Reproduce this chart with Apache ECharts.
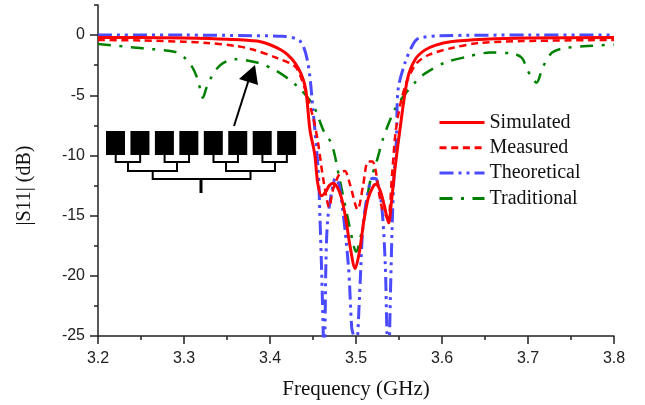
<!DOCTYPE html>
<html>
<head>
<meta charset="utf-8">
<style>
  html, body { margin: 0; padding: 0; background: #fff; }
  #chart { width: 645px; height: 405px; }
</style>
<script src="https://cdn.jsdelivr.net/npm/echarts@6/dist/echarts.min.js"></script>
</head>
<body>
<div id="chart"></div>
<script>
const simFreq = [3.2, 3.25, 3.3, 3.35, 3.385, 3.4, 3.412, 3.42, 3.429, 3.436, 3.4415, 3.4465, 3.452, 3.4555, 3.46, 3.465, 3.469, 3.473, 3.478, 3.483, 3.488, 3.493, 3.499, 3.504, 3.509, 3.514, 3.519, 3.523, 3.528, 3.533, 3.538, 3.541, 3.545, 3.551, 3.56, 3.569, 3.58, 3.592, 3.61, 3.65, 3.7, 3.8];
const simVals = [-0.2, -0.2, -0.25, -0.35, -0.5, -0.8, -1.2, -1.6, -2.3, -3.2, -4.5, -7.9, -9.9, -12.3, -13.35, -13, -12.5, -12.3, -12.6, -13.5, -15.2, -17.5, -19.4, -18, -15.5, -13.6, -12.7, -12.4, -12.9, -14.2, -15.6, -14, -11.3, -7.9, -3.6, -2, -1.25, -0.85, -0.55, -0.35, -0.25, -0.2];

const measFreq = [3.2, 3.25, 3.3, 3.327, 3.36, 3.38, 3.408, 3.429, 3.437, 3.45, 3.456, 3.462, 3.469, 3.473, 3.481, 3.487, 3.493, 3.502, 3.508, 3.514, 3.519, 3.53, 3.537, 3.542, 3.546, 3.552, 3.56, 3.571, 3.586, 3.613, 3.644, 3.694, 3.8];
const measVals = [-0.4, -0.45, -0.55, -0.65, -0.9, -1.2, -1.9, -2.6, -3.7, -6.8, -9, -12, -14.3, -12.9, -11.5, -11.3, -12.4, -14.5, -12.6, -10.5, -10.5, -14.3, -15.2, -11.5, -8.1, -5.6, -3.7, -2.3, -1.6, -1.05, -0.65, -0.5, -0.4];

const theoFreq = [3.2, 3.3, 3.38, 3.415, 3.435, 3.444, 3.45, 3.456, 3.458, 3.46, 3.462, 3.463, 3.464, 3.465, 3.467, 3.472, 3.476, 3.481, 3.491, 3.495, 3.497, 3.5, 3.502, 3.505, 3.508, 3.513, 3.519, 3.524, 3.53, 3.534, 3.536, 3.538, 3.539, 3.54, 3.542, 3.544, 3.547, 3.549, 3.557, 3.565, 3.572, 3.598, 3.7, 3.8];
const theoVals = [0, 0, -0.05, -0.1, -0.5, -2.3, -6.2, -11.2, -15, -19.5, -25, -28, -24.3, -19, -15.4, -12.9, -11.9, -12.6, -19, -24.3, -25, -28, -25, -20.3, -16, -13.4, -11.9, -12, -14.3, -19, -24.8, -28, -25, -21.7, -16, -12, -8.7, -4.5, -2.3, -0.95, -0.3, -0.05, 0, 0];

const tradFreq = [3.2, 3.252, 3.29, 3.301, 3.31, 3.316, 3.322, 3.326, 3.331, 3.342, 3.359, 3.386, 3.408, 3.431, 3.45, 3.462, 3.472, 3.481, 3.489, 3.497, 3.5, 3.502, 3.51, 3.516, 3.524, 3.531, 3.536, 3.545, 3.555, 3.569, 3.58, 3.603, 3.629, 3.656, 3.683, 3.693, 3.7, 3.71, 3.717, 3.728, 3.745, 3.8];
const tradVals = [-0.75, -1.1, -1.4, -1.9, -2.7, -3.7, -5.2, -4.4, -3.6, -2.5, -2, -2.3, -3, -4.2, -5.8, -7.9, -9.1, -12, -14.7, -17.4, -18, -17.8, -15.1, -12.3, -10.5, -8.7, -7.7, -6.2, -5.1, -3.9, -3.2, -2.3, -1.8, -1.45, -1.55, -1.9, -3, -3.95, -2.7, -1.45, -1.05, -0.8];

const seriesNames = ["Simulated", "Measured", "Theoretical", "Traditional"];
const yMajorTicks = [-25, -20, -15, -10, -5, 0];
const yMinorTicks = [-22.5, -17.5, -12.5, -7.5, -2.5, 2.5];

const zipPoints = (xs, ys) => xs.map((x, i) => [x, ys[i]]);
const axisColor = "#222";
const serif = "Liberation Serif";
const sans = "Liberation Sans";

// inset schematic of the 8 element array and its feed tree
const inset = [];
for (let i = 0; i < 8; i++) {
  inset.push({
    type: "rect",
    shape: { x: 106 + i * 24.45, y: 131, width: 19, height: 24 },
    style: { fill: "#000" },
  });
}
const branch = (x1, x2, y1, y2) => ({
  type: "polyline",
  shape: { points: [[x1, y1], [x1, y2], [x2, y2], [x2, y1]] },
  style: { fill: null, stroke: "#000", lineWidth: 2 },
});
[115.7, 164.6, 213.5, 262.4].forEach((x) => inset.push(branch(x, x + 24.45, 155, 162)));
[128, 226].forEach((x) => inset.push(branch(x, x + 49, 162, 171)));
inset.push(branch(152.7, 250.5, 171, 179));
inset.push({
  type: "line",
  shape: { x1: 201, y1: 179, x2: 201, y2: 193 },
  style: { stroke: "#000", lineWidth: 3 },
});
inset.push({
  type: "line",
  shape: { x1: 234, y1: 126, x2: 249, y2: 79 },
  style: { stroke: "#000", lineWidth: 2 },
});
inset.push({
  type: "polygon",
  shape: { points: [[255, 65], [239, 79], [258, 85]] },
  style: { fill: "#000" },
});

const lineBase = { type: "line", symbol: "none", smooth: 0.3 };

const chart = echarts.init(document.getElementById("chart"));
chart.setOption({
  animation: false,
  backgroundColor: "#fff",
  grid: { left: 98, right: 31, top: 5, bottom: 69 },
  legend: {
    data: seriesNames,
    orient: "vertical",
    left: 438,
    top: 112.5,
    padding: 0,
    itemWidth: 45,
    itemHeight: 14,
    itemGap: 5.3,
    itemStyle: { opacity: 0 },
    lineStyle: { width: 3 },
    textStyle: { fontFamily: serif, fontSize: 20, color: "#111" },
  },
  xAxis: {
    type: "value",
    min: 3.2,
    max: 3.8,
    interval: 0.1,
    name: "Frequency (GHz)",
    nameLocation: "middle",
    nameGap: 43,
    nameTextStyle: { fontFamily: serif, fontSize: 21, color: "#111" },
    axisLine: { onZero: false, lineStyle: { color: axisColor, width: 1.5 } },
    axisTick: { length: 8, lineStyle: { color: axisColor, width: 1.5 } },
    minorTick: { show: true, splitNumber: 2, length: 4, lineStyle: { color: axisColor, width: 1.5 } },
    axisLabel: { fontFamily: sans, fontSize: 16, color: "#222", margin: 15, formatter: (v) => v.toFixed(1) },
    splitLine: { show: false },
  },
  yAxis: [
    {
      type: "value",
      min: -25,
      max: 2.5,
      name: "|S11| (dB)",
      nameLocation: "middle",
      nameGap: 63,
      nameTextStyle: { fontFamily: serif, fontSize: 20, color: "#111", padding: [0, 30, 0, 0] },
      axisLine: { onZero: false, lineStyle: { color: axisColor, width: 1.5 } },
      axisTick: { customValues: yMajorTicks, length: 8, lineStyle: { color: axisColor, width: 1.5 } },
      axisLabel: { customValues: yMajorTicks, fontFamily: sans, fontSize: 16, color: "#222", margin: 13, padding: [6, 0, 0, 0] },
      splitLine: { show: false },
    },
    {
      type: "value",
      min: -25,
      max: 2.5,
      position: "left",
      axisLine: { show: false, onZero: false },
      axisTick: { customValues: yMinorTicks, length: 4, lineStyle: { color: axisColor, width: 1.5 } },
      axisLabel: { show: false },
      splitLine: { show: false },
    },
  ],
  series: [
    {
      ...lineBase,
      name: "Traditional",
      data: zipPoints(tradFreq, tradVals),
      lineStyle: { color: "#008000", width: 2.5, type: [13, 8.5, 3, 8.5] },
      itemStyle: { color: "#008000" },
    },
    {
      ...lineBase,
      name: "Theoretical",
      data: zipPoints(theoFreq, theoVals),
      lineStyle: { color: "#4a4aff", width: 3, type: [14, 5, 3, 5, 3, 5] },
      itemStyle: { color: "#4a4aff" },
    },
    {
      ...lineBase,
      name: "Measured",
      data: zipPoints(measFreq, measVals),
      lineStyle: { color: "#ff0000", width: 2.5, type: [7, 4.7] },
      itemStyle: { color: "#ff0000" },
    },
    {
      ...lineBase,
      name: "Simulated",
      data: zipPoints(simFreq, simVals),
      lineStyle: { color: "#ff0000", width: 3 },
      itemStyle: { color: "#ff0000" },
    },
  ],
  graphic: inset,
});
</script>
</body>
</html>
